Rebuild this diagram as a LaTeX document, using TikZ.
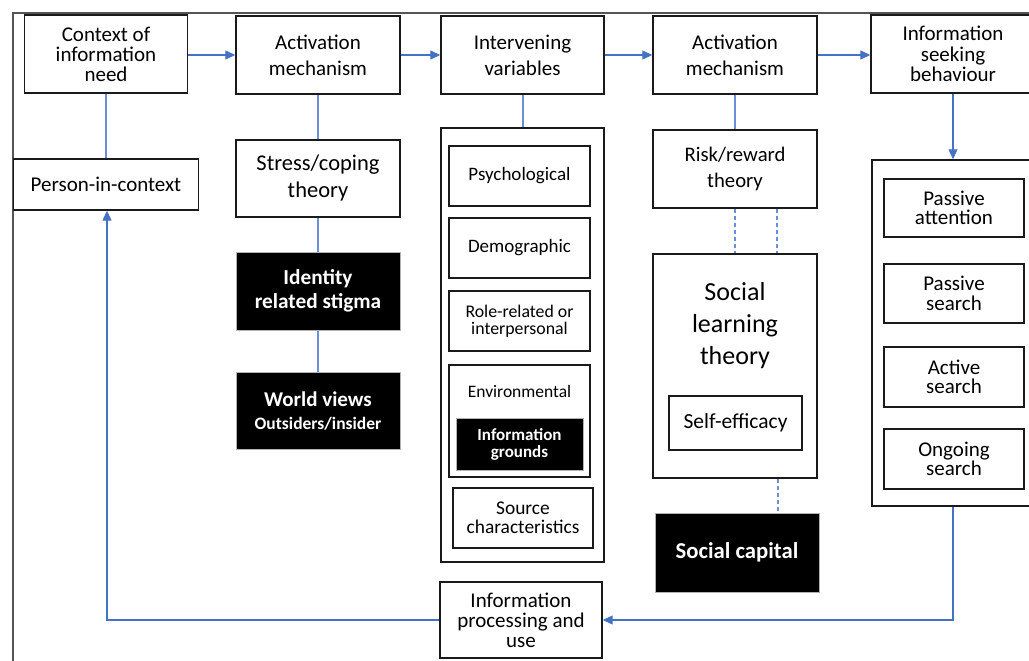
\documentclass[tikz,border=0pt]{standalone}
\usepackage{fontspec}
\setmainfont{Carlito}
\usetikzlibrary{arrows.meta,calc}
\newcommand\myfs[2]{\fontsize{#1}{#2}\selectfont}
\definecolor{linkc}{HTML}{4472C4}
\definecolor{lightlink}{HTML}{6A8FD6}
\definecolor{boxc}{HTML}{1A1A1A}
\definecolor{framec}{HTML}{555555}
\tikzset{
  box/.style={draw=boxc, line width=1.4pt, fill=white, align=center, inner sep=0pt, text=black},
  blk/.style={box, fill=black, draw=gray!60, line width=1pt, text=white},
  conn/.style={draw=lightlink, line width=1.3pt},
  arr/.style={draw=linkc, line width=1.1pt, -{Triangle[length=10pt,width=9pt]}},
  dsh/.style={draw=lightlink, line width=1.1pt, dash pattern=on 4pt off 3pt},
  top/.style={box, minimum width=164pt, minimum height=78pt, font=\myfs{21}{26}},
  inner/.style={box, minimum width=141pt, minimum height=60pt, font=\myfs{19}{19}},
  seekin/.style={box, minimum width=140pt, minimum height=59pt, font=\myfs{21}{19.5}},
}
\begin{document}
\begin{tikzpicture}[x=1pt,y=-1pt]
\clip (0,0) rectangle (1029,661);
\fill[white] (0,0) rectangle (1029,661);
\draw[draw=framec, line width=1.3pt] (13,680) -- (13,13) -- (1045,13);

% top row
\node[top, minimum width=163pt, font=\myfs{21}{20}] (ctx) at (106,54) {Context of\\information\\need};
\node[top] (act1) at (318,55) {Activation\\mechanism};
\node[top, minimum width=163pt] (intv) at (522.5,55) {Intervening\\variables};
\node[top] (act2) at (735,55) {Activation\\mechanism};
\node[top, font=\myfs{21}{20.5}] (seek) at (953,54) {Information\\seeking\\behaviour};

% left column
\node[box, minimum width=185pt, minimum height=51pt, font=\myfs{21}{21}] (person) at (106,184.5) {Person-in-context};

% activation 1 column
\node[box, minimum width=164pt, minimum height=77pt, font=\myfs{22.5}{27}] (stress) at (318,178.5) {Stress/coping\\theory};
\node[blk, minimum width=164pt, minimum height=78pt, font=\myfs{21.3}{24}\bfseries] (ident) at (318,291) {Identity\\related stigma};
\node[blk, minimum width=164pt, minimum height=77pt, font=\myfs{17.5}{23}\bfseries] (world) at (318,411) {{\myfs{21}{23}\bfseries World views}\\Outsiders/insider};

% intervening variables column
\node[box, minimum width=163pt, minimum height=434pt] (ivbox) at (522.5,345) {};
\node[inner] (psych) at (519.5,176) {Psychological};
\node[inner] (demo) at (519.5,248) {Demographic};
\node[inner, font=\myfs{17.8}{17}] (role) at (519.5,321) {Role-related or\\interpersonal};
\node[inner, minimum height=112pt, label={[font=\myfs{17.5}{17.5}, yshift=30pt]center:Environmental}] (env) at (519.5,421) {};
\node[blk, minimum width=127pt, minimum height=52pt, font=\myfs{17}{17}\bfseries] (ground) at (519.5,444) {Information\\grounds};
\node[inner, minimum width=140pt, font=\myfs{19.4}{19}] (source) at (523,518) {Source\\characteristics};

% activation 2 column
\node[box, minimum width=164pt, minimum height=78pt, font=\myfs{20.7}{26}] (risk) at (735,169) {Risk/reward\\theory};
\node[box, minimum width=164pt, minimum height=224pt, label={[font=\myfs{26}{32}, align=center, yshift=40pt]center:Social\\learning\\theory}] (slt) at (735,366) {};
\node[box, minimum width=133pt, minimum height=54pt, font=\myfs{21.5}{21}] (selfeff) at (735.5,423) {Self-efficacy};
\node[blk, minimum width=164pt, minimum height=79pt, font=\myfs{22.7}{24}\bfseries] (cap) at (737,552.5) {Social capital};

% information seeking column
\node[box, minimum width=164pt, minimum height=346pt] (seekbox) at (954,333) {};
\node[seekin, minimum height=58pt] (pattn) at (954,208) {Passive\\attention};
\node[seekin] (psearch) at (954,293.5) {Passive\\search};
\node[seekin, minimum height=60pt] (asearch) at (954,377) {Active\\search};
\node[seekin, minimum height=60pt] (osearch) at (954,459) {Ongoing\\search};

% bottom
\node[box, minimum width=162pt, minimum height=76pt, font=\myfs{21}{20}] (proc) at (521,620) {Information\\processing and\\use};

% connectors
\draw[arr] (ctx.east |- act1) -- (act1);
\draw[arr] (act1) -- (intv);
\draw[arr] (intv) -- (act2);
\draw[arr] (act2) -- (seek.west |- act2);
\draw[conn] (ctx) -- (person);
\draw[conn] (act1) -- (stress);
\draw[conn] (stress) -- (ident);
\draw[conn] (ident) -- (world);
\draw[conn] ([xshift=0.5pt]intv.south) -- ([xshift=0.5pt]ivbox.north);
\draw[conn] (act2) -- (risk);
\draw[dsh] (risk.south) -- (slt.north);
\draw[dsh] ([xshift=42pt]risk.south) -- ([xshift=42pt]slt.north);
\draw[dsh] ([xshift=43pt]slt.south) -- ([xshift=43pt]slt.south |- cap.north);
\draw[arr] (seek) -- (seek |- seekbox.north);
\draw[arr] (seekbox.south -| seek) |- (proc.east);
\draw[arr] (proc.west) -| ([xshift=1pt]person.south);
\end{tikzpicture}
\end{document}
